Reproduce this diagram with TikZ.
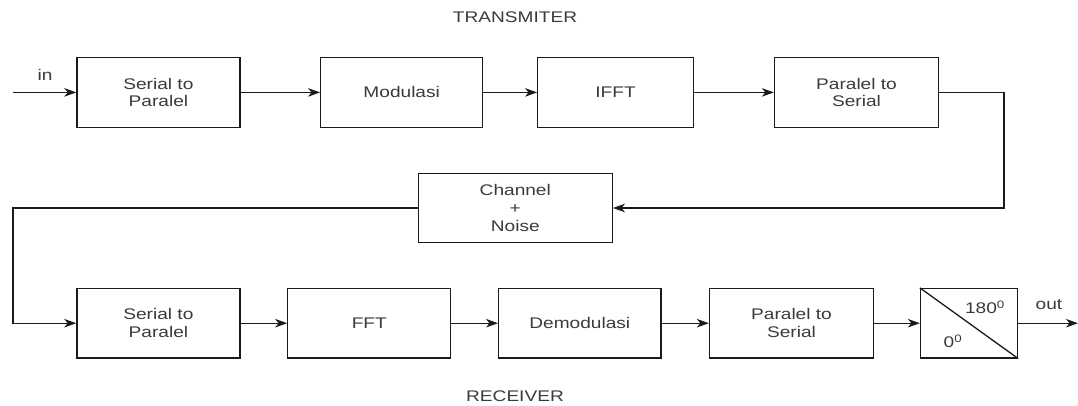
\documentclass[tikz,border=0pt]{standalone}
\usepackage{fontspec}
\setmainfont{Liberation Sans}[FakeStretch=1.24]
\usetikzlibrary{arrows.meta}
\definecolor{txt}{HTML}{3A3A3A}
\definecolor{ln}{HTML}{1A1A1A}
\begin{document}
\begin{tikzpicture}[x=1pt,y=-1pt,
  blk/.style={draw=ln,line width=1.3pt,rectangle,minimum height=70pt,inner sep=0pt,align=center,text=txt,font=\fontsize{15.4}{17.6}\selectfont},
  lbl/.style={text=txt,font=\fontsize{15.4}{17.6}\selectfont,inner sep=0pt},
  conn/.style={draw=ln,line width=1.3pt,-{Stealth[length=12pt,width=8.5pt,inset=3.5pt]}},
  plain/.style={draw=ln,line width=1.3pt}
]
\useasboundingbox (0,0) rectangle (1078,405);
% transmitter row
\node[blk,minimum width=163pt] (sp1) at (158.4,92.4) {Serial to\\Paralel};
\node[blk,minimum width=162pt] (mod) at (401.7,92.4) {Modulasi};
\node[blk,minimum width=155.6pt] (ifft) at (615.5,92.4) {IFFT};
\node[blk,minimum width=164pt] (ps1) at (856.5,92.4) {Paralel to\\Serial};
% channel
\node[blk,minimum width=194pt,minimum height=69.4pt] (ch) at (515.3,208) {Channel\\+\\Noise};
% receiver row
\node[blk,minimum width=163pt,minimum height=69.4pt] (sp2) at (158.4,323.2) {Serial to\\Paralel};
\node[blk,minimum width=163pt,minimum height=69.4pt] (fft) at (369.3,323.2) {FFT};
\node[blk,minimum width=162.3pt,minimum height=69.4pt] (dem) at (579.8,323.2) {Demodulasi};
\node[blk,minimum width=164pt,minimum height=69.4pt] (ps2) at (791.5,323.2) {Paralel to\\Serial};
\node[blk,minimum width=97pt,minimum height=69.4pt] (sw) at (969,323.2) {};
\draw[plain] (sw.north west) -- (sw.south east);
\node[lbl] (deg180) at (985,307) {180\textsuperscript{0}};
\node[lbl] (deg0) at (953,341) {0\textsuperscript{0}};
% titles
\node[lbl] (tx) at (515,16.7) {TRANSMITER};
\node[lbl] (rx) at (515,396) {RECEIVER};
\node[lbl] (inl) at (45,75) {in};
\node[lbl] (outl) at (1049,305) {out};
% connectors
\coordinate (inp) at (13,92.4);
\coordinate (fb) at (1004,208);
\coordinate (lft) at (13,208);
\coordinate (outp) at (1078,323.2);
\draw[conn] (inp) -- (sp1);
\draw[conn] (sp1) -- (mod);
\draw[conn] (mod) -- (ifft);
\draw[conn] (ifft) -- (ps1);
\draw[conn] (ps1.east) -- (ps1.east -| fb) -- (fb) -- (ch.east);
\draw[conn] (ch.west) -- (lft) -- (lft |- sp2) -- (sp2.west);
\draw[conn] (sp2) -- (fft);
\draw[conn] (fft) -- (dem);
\draw[conn] (dem) -- (ps2);
\draw[conn] (ps2) -- (sw);
\draw[conn] (sw) -- (outp);
\end{tikzpicture}
\end{document}
